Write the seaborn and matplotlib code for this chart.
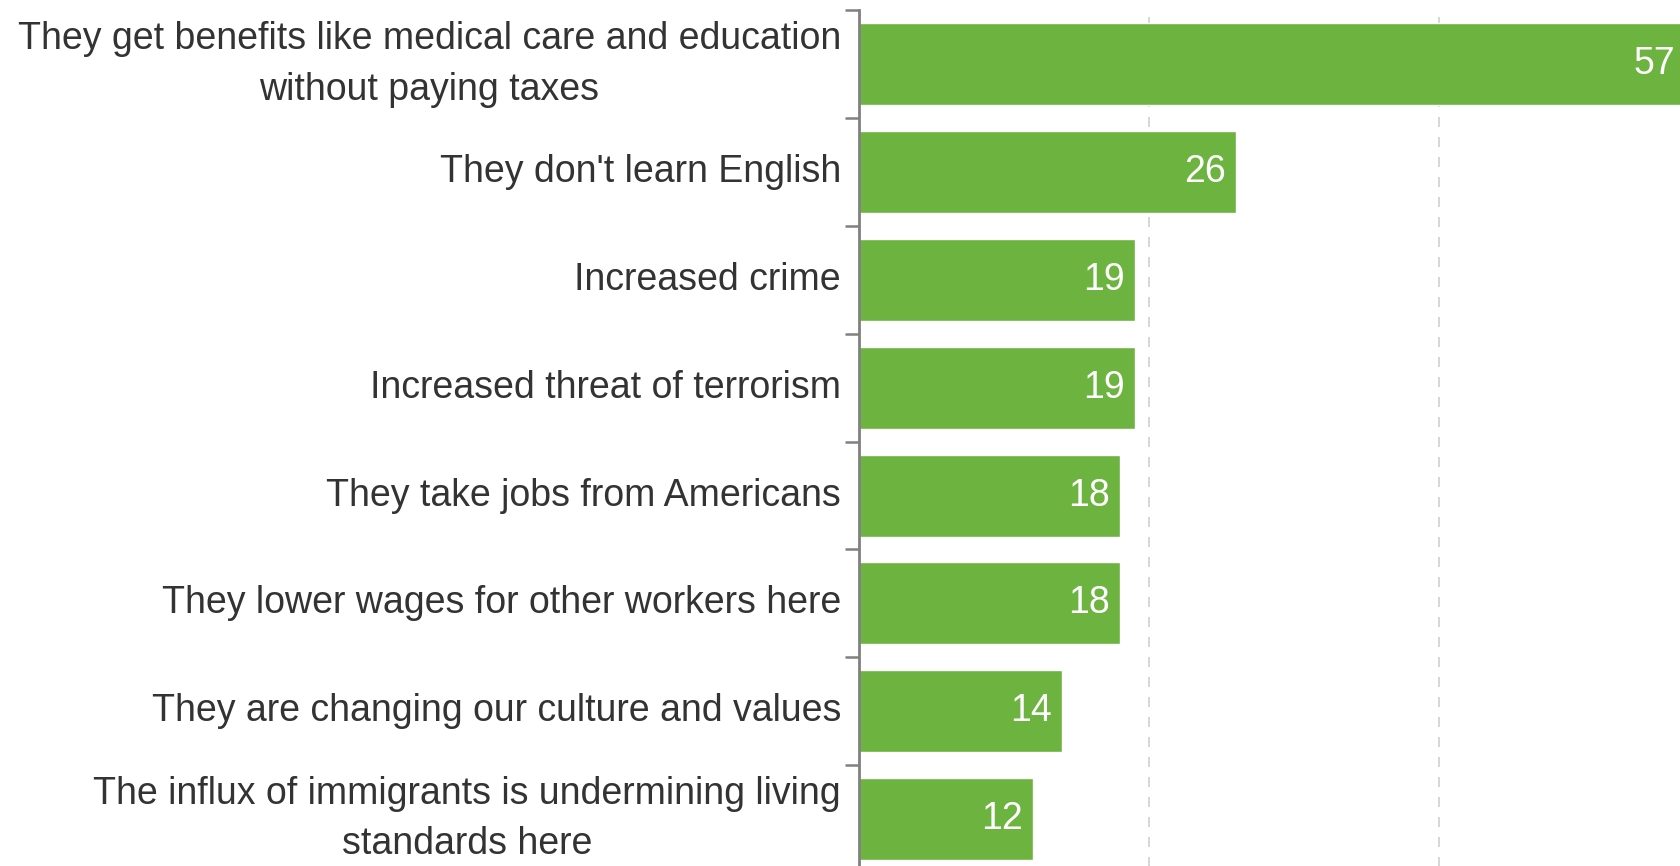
import numpy as np
import pandas as pd
import matplotlib
matplotlib.use("Agg")
import matplotlib.pyplot as plt
import seaborn as sns

categories = [
    "They get benefits like medical care and education\nwithout paying taxes",
    "They don't learn English",
    "Increased crime",
    "Increased threat of terrorism",
    "They take jobs from Americans",
    "They lower wages for other workers here",
    "They are changing our culture and values",
    "The influx of immigrants is undermining living\nstandards here",
]
values = [57, 26, 19, 19, 18, 18, 14, 12]

df = pd.DataFrame({"reason": categories, "pct": values})

sns.set_style("white")
plt.rcParams['font.family'] = ['Liberation Sans', 'DejaVu Sans']

fig = plt.figure(figsize=(16.8, 8.66), dpi=100)
ax = fig.add_axes([0.5113, -0.008, 0.4887, 0.996])

sns.barplot(data=df, y="reason", x="pct", orient="h", color="#6db33f",
            saturation=1, width=0.76, ax=ax)

ax.set_xlim(0, 56.6)
ax.set_ylim(len(categories) - 0.5, -0.5)
ax.set_xlabel("")
ax.set_ylabel("")
ax.set_xticks([20, 40])
ax.set_xticklabels([])
ax.tick_params(axis="x", length=0)
ax.grid(axis="x", color="#d0d0d0", linestyle=(0, (6, 6)), linewidth=1.2)
ax.set_axisbelow(True)

for s in ["top", "right", "bottom"]:
    ax.spines[s].set_visible(False)
ax.spines["left"].set_color("#808080")
ax.spines["left"].set_linewidth(2)
ax.spines["left"].set_zorder(5)

# category labels, ticks at the boundaries
ax.tick_params(axis="y", which="major", length=0, pad=13, labelsize=27,
               labelcolor="#333333")
ax.set_yticks(np.arange(-0.5, len(categories), 1.0), minor=True)
ax.tick_params(axis="y", which="minor", left=True, length=10, width=1.8,
               color="#808080")
for lab in ax.get_yticklabels():
    lab.set_multialignment("center")
    lab.set_verticalalignment("center")
    lab.set_linespacing(1.52)

for i, v in enumerate(values):
    ax.text(v - 0.7, i, str(v), ha="right", va="center",
            color="white", fontsize=27)

fig.savefig("out.png", dpi=100)
